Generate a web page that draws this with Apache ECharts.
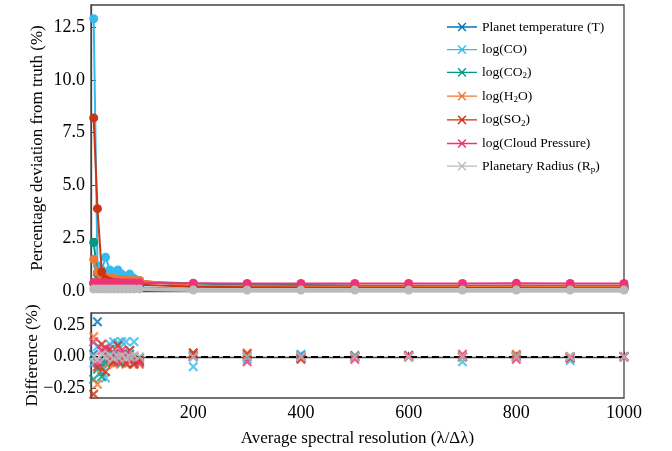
<!DOCTYPE html>
<html>
<head>
<meta charset="utf-8">
<script src="https://cdn.jsdelivr.net/npm/echarts@6/dist/echarts.min.js"></script>
<style>
html,body{margin:0;padding:0;background:#fff;}
#c{width:672px;height:451px;}
</style>
</head>
<body>
<div id="c"></div>
<script>
// ---- data ----
var xRes = [15, 22, 30, 37, 45, 52, 60, 67, 75, 82, 90, 100, 200, 300, 400, 500, 600, 700, 800, 900, 1000];
var seriesNames = ['Planet temperature (T)', 'log(CO)', 'log(CO2)', 'log(H2O)', 'log(SO2)', 'log(Cloud Pressure)', 'Planetary Radius (Rp)'];
// percentage deviation from truth (%)
var devT     = [0.35, 0.30, 0.25, 0.22, 0.20, 0.20, 0.20, 0.18, 0.18, 0.18, 0.17, 0.17, 0.10, 0.10, 0.10, 0.10, 0.10, 0.10, 0.10, 0.10, 0.10];
var devCO    = [12.9, 1.20, 1.00, 1.60, 1.00, 0.90, 1.00, 0.80, 0.70, 0.80, 0.60, 0.50, 0.20, 0.18, 0.15, 0.15, 0.15, 0.15, 0.15, 0.15, 0.15];
var devCO2   = [2.30, 0.80, 0.60, 0.55, 0.50, 0.50, 0.50, 0.48, 0.45, 0.45, 0.45, 0.45, 0.35, 0.30, 0.28, 0.26, 0.25, 0.25, 0.25, 0.25, 0.25];
var devH2O   = [1.50, 0.90, 0.60, 0.65, 0.60, 0.60, 0.55, 0.55, 0.50, 0.50, 0.50, 0.50, 0.25, 0.22, 0.20, 0.20, 0.20, 0.20, 0.20, 0.20, 0.20];
var devSO2   = [8.20, 3.90, 0.90, 0.55, 0.45, 0.40, 0.38, 0.35, 0.35, 0.33, 0.32, 0.30, 0.20, 0.18, 0.16, 0.15, 0.15, 0.14, 0.14, 0.13, 0.13];
var devCloud = [0.40, 0.40, 0.38, 0.40, 0.38, 0.38, 0.40, 0.38, 0.38, 0.38, 0.38, 0.38, 0.37, 0.36, 0.36, 0.36, 0.36, 0.36, 0.37, 0.36, 0.36];
var devRp    = [0.10, 0.10, 0.10, 0.10, 0.10, 0.10, 0.10, 0.10, 0.10, 0.10, 0.10, 0.10, 0.05, 0.05, 0.05, 0.05, 0.05, 0.05, 0.05, 0.05, 0.05];
// difference (%)
var diffT     = [0.02, 0.28, -0.05, 0.03, -0.02, 0.01, -0.03, 0.02, -0.01, 0.02, -0.02, -0.01, 0.01, 0.00, 0.01, 0.00, 0.00, 0.00, 0.00, 0.00, 0.00];
var diffCO    = [-0.05, 0.08, -0.12, -0.17, 0.10, 0.12, 0.11, 0.12, 0.12, 0.05, 0.12, -0.03, -0.08, -0.02, 0.02, 0.00, 0.00, -0.04, 0.01, -0.03, 0.00];
var diffCO2   = [-0.18, -0.10, -0.16, -0.05, 0.02, -0.03, 0.00, -0.05, 0.01, -0.03, -0.05, -0.04, 0.00, 0.00, -0.01, 0.01, 0.00, 0.00, 0.01, 0.00, 0.00];
var diffH2O   = [0.16, -0.22, -0.10, 0.05, -0.05, -0.06, 0.00, -0.03, -0.06, -0.04, -0.05, -0.06, 0.03, 0.03, -0.01, 0.00, 0.00, 0.00, 0.02, 0.00, 0.00];
var diffSO2   = [-0.30, -0.08, 0.10, -0.12, 0.06, -0.04, 0.09, 0.02, -0.05, 0.05, -0.06, -0.03, 0.03, 0.02, -0.02, 0.00, 0.01, 0.00, 0.00, -0.01, 0.00];
var diffCloud = [0.12, -0.05, 0.05, 0.07, 0.00, 0.03, -0.04, 0.05, 0.02, -0.03, 0.00, -0.05, 0.00, -0.04, 0.00, -0.02, 0.01, 0.02, -0.02, -0.01, 0.00];
var diffRp    = [0.00, -0.02, 0.02, 0.00, 0.01, -0.01, 0.00, 0.01, -0.01, 0.00, 0.01, 0.00, 0.00, 0.00, 0.00, 0.00, 0.00, 0.00, 0.00, 0.00, 0.00];
var xTicks = [200, 400, 600, 800, 1000];
var yTopTicks = [0, 2.5, 5, 7.5, 10, 12.5];
var yBotTicks = [-0.25, 0, 0.25];

var devAll = [devT, devCO, devCO2, devH2O, devSO2, devCloud, devRp];
var diffAll = [diffT, diffCO, diffCO2, diffH2O, diffSO2, diffCloud, diffRp];
var colors = ['#0077BB', '#33BBEE', '#009988', '#EE7733', '#CC3311', '#EE3377', '#BBBBBB'];
var labelMap = {
  'Planet temperature (T)': '{n|Planet temperature (T)}',
  'log(CO)': '{n|log(CO)}',
  'log(CO2)': '{n|log(CO}{s|2}{n|)}',
  'log(H2O)': '{n|log(H}{s|2}{n|O)}',
  'log(SO2)': '{n|log(SO}{s|2}{n|)}',
  'log(Cloud Pressure)': '{n|log(Cloud Pressure)}',
  'Planetary Radius (Rp)': '{n|Planetary Radius (R}{s|p}{n|)}'
};
var FONT = '"Liberation Serif", "DejaVu Serif", serif';
var xSym = 'path://M0,1.6 L1.6,0 L10,8.4 L8.4,10 Z M8.4,0 L10,1.6 L1.6,10 L0,8.4 Z';
var legIcon = 'path://M0,4.35 L30,4.35 L30,5.65 L0,5.65 Z M10.6,1.4 L11.6,0.4 L19.4,8.6 L18.4,9.6 Z M18.4,0.4 L19.4,1.4 L11.6,9.6 L10.6,8.6 Z';

var series = [];
seriesNames.forEach(function (nm, k) {
  series.push({
    name: nm, type: 'line', xAxisIndex: 0, yAxisIndex: 0,
    data: xRes.map(function (x, i) { return [x, devAll[k][i]]; }),
    symbol: 'circle', symbolSize: 9, showSymbol: true,
    lineStyle: { width: k === 6 ? 4 : 2, color: colors[k] },
    itemStyle: { color: colors[k] },
    z: 2 + k, animation: false
  });
});
seriesNames.forEach(function (nm, k) {
  series.push({
    name: nm, type: 'scatter', xAxisIndex: 1, yAxisIndex: 1,
    data: xRes.map(function (x, i) { return [x, diffAll[k][i]]; }),
    symbol: xSym, symbolSize: 10,
    itemStyle: { color: colors[k] },
    z: 2 + k, animation: false
  });
});
series.push({
  type: 'line', xAxisIndex: 1, yAxisIndex: 1, data: [], silent: true, animation: false,
  markLine: {
    silent: true, symbol: ['none', 'none'], label: { show: false }, animation: false,
    lineStyle: { color: '#000', type: [7, 4], width: 2 },
    data: [{ yAxis: 0 }]
  },
  z: 1
});

var axisLineStyle = { show: true, lineStyle: { color: '#444', width: 1.3 } };
var chart = echarts.init(document.getElementById('c'), null, { renderer: 'canvas' });
chart.setOption({
  backgroundColor: '#fff',
  animation: false,
  color: colors,
  textStyle: { fontFamily: FONT },
  grid: [
    { left: 91, top: 5, right: 48, height: 286, show: true, borderColor: '#444', borderWidth: 1.3, backgroundColor: 'transparent' },
    { left: 91, top: 313, right: 48, height: 85, show: true, borderColor: '#444', borderWidth: 1.3, backgroundColor: 'transparent' }
  ],
  legend: {
    data: seriesNames,
    left: 442, top: 15,
    orient: 'vertical',
    itemWidth: 30, itemHeight: 10, itemGap: 8.7,
    icon: legIcon,
    formatter: function (n) { return labelMap[n]; },
    textStyle: {
      color: '#000', fontFamily: FONT, fontSize: 13.5,
      rich: {
        n: { fontFamily: FONT, fontSize: 13.5, color: '#000' },
        s: { fontFamily: FONT, fontSize: 9, color: '#000', padding: [7, 0, 0, 0] }
      }
    }
  },
  xAxis: [
    {
      type: 'value', gridIndex: 0, min: 10, max: 1000,
      axisLine: axisLineStyle,
      axisTick: { show: true, inside: true, length: 5, customValues: xTicks, lineStyle: { color: '#444' } },
      axisLabel: { show: false, customValues: xTicks },
      splitLine: { show: false }
    },
    {
      type: 'value', gridIndex: 1, min: 10, max: 1000,
      axisLine: axisLineStyle,
      axisTick: { show: true, inside: true, length: 5, customValues: xTicks, lineStyle: { color: '#444' } },
      axisLabel: { show: true, customValues: xTicks, color: '#000', fontSize: 18, fontFamily: FONT, margin: 6, formatter: function (v) { return String(v); } },
      splitLine: { show: false },
      name: 'Average spectral resolution (λ/Δλ)', nameLocation: 'middle', nameGap: 32, nameMoveOverlap: false,
      nameTextStyle: { color: '#000', fontSize: 17, fontFamily: FONT }
    }
  ],
  yAxis: [
    {
      type: 'value', gridIndex: 0, min: 0, max: 13.55,
      axisLine: axisLineStyle,
      axisTick: { show: true, inside: true, length: 5, customValues: yTopTicks, lineStyle: { color: '#444' } },
      axisLabel: { customValues: yTopTicks, color: '#000', fontSize: 18, fontFamily: FONT, margin: 6, formatter: function (v) { return v.toFixed(1); } },
      splitLine: { show: false },
      name: 'Percentage deviation from truth (%)', nameLocation: 'middle', nameGap: 45, nameRotate: 90, nameMoveOverlap: false,
      nameTextStyle: { color: '#000', fontSize: 17, fontFamily: FONT }
    },
    {
      type: 'value', gridIndex: 1, min: -0.33, max: 0.35,
      axisLine: axisLineStyle,
      axisTick: { show: true, inside: true, length: 5, customValues: yBotTicks, lineStyle: { color: '#444' } },
      axisLabel: { customValues: yBotTicks, color: '#000', fontSize: 18, fontFamily: FONT, margin: 6, formatter: function (v) { return (v < 0 ? '\u2212' : '') + Math.abs(v).toFixed(2); } },
      splitLine: { show: false },
      name: 'Difference (%)', nameLocation: 'middle', nameGap: 50, nameRotate: 90, nameMoveOverlap: false,
      nameTextStyle: { color: '#000', fontSize: 17, fontFamily: FONT }
    }
  ],
  series: series
});
</script>
</body>
</html>
